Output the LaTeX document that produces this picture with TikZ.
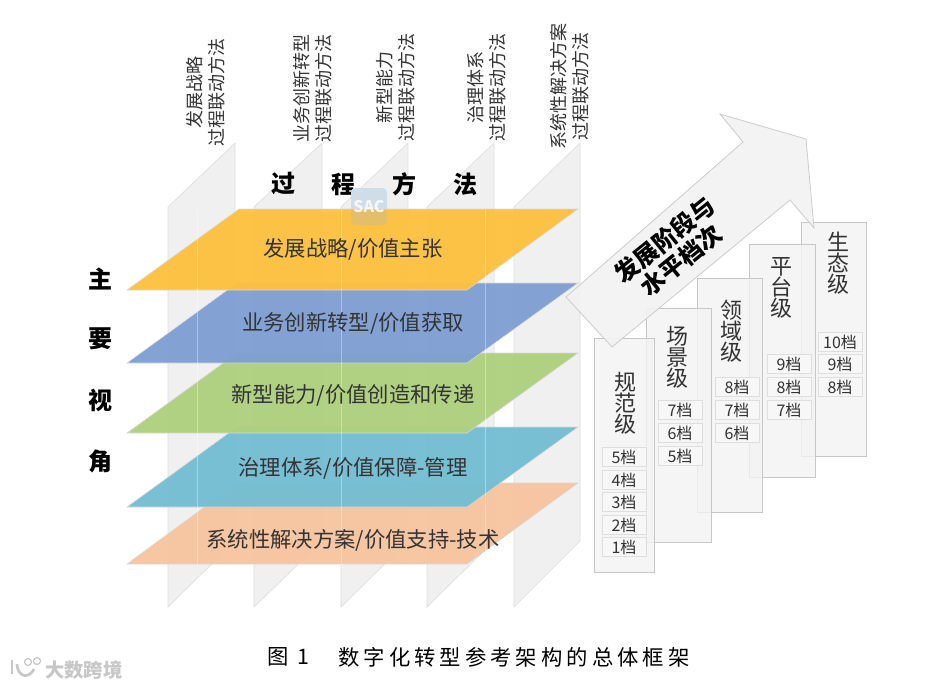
\documentclass[tikz,border=0pt]{standalone}
\usepackage{fontspec}
\usepackage{xcolor}
\setmainfont{Noto Sans CJK SC}
\newfontfamily\capfont[LetterSpace=19]{Noto Sans CJK SC}
\usetikzlibrary{positioning}
\definecolor{laYellow}{HTML}{FDC13F}
\definecolor{laBlue}{HTML}{7F9FD2}
\definecolor{laGreen}{HTML}{AFD07E}
\definecolor{laCyan}{HTML}{74BDD3}
\definecolor{laOrange}{HTML}{F7C49F}
\definecolor{inkGray}{HTML}{333333}
\definecolor{logoBlue}{HTML}{CFDDE8}

\begin{document}
\begin{tikzpicture}[
  x=0.75pt, y=-0.75pt,
  panel/.style={draw=black!13, line width=0.5pt, fill=black!6},
  layer/.style={draw=white!85!black, line width=0.4pt, fill opacity=0.96},
  seam/.style={draw=white, line width=0.5pt, opacity=0.35},
  laytxt/.style={font=\fontsize{16}{19}\selectfont, text=inkGray},
  coltxt/.style={rotate=90, align=center, text=inkGray, font=\fontsize{13.5}{16.5}\selectfont},
  sidetxt/.style={font=\fontsize{18}{21}\selectfont\bfseries},
  tier/.style={draw=black!22, line width=0.7pt, fill=black!5, fill opacity=0.8, text opacity=1, anchor=north west, inner sep=0pt},
  tiertxt/.style={align=center, text=inkGray, font=\fontsize{16.5}{15.75}\selectfont},
  grade/.style={draw=black!13, line width=0.7pt, fill=black!3, minimum width=33pt, minimum height=14pt,
    inner sep=0pt, text=inkGray, font=\fontsize{12}{14}\selectfont},
]
\useasboundingbox (0,0) rectangle (927,687);
% panels
\draw[panel] (168,207) -- (235,143) -- (235,541) -- (168,607) -- cycle;
\draw[panel] (254,207) -- (322,143) -- (322,541) -- (254,607) -- cycle;
\draw[panel] (341,207) -- (408,143) -- (408,541) -- (341,607) -- cycle;
\draw[panel] (427,207) -- (494,143) -- (494,541) -- (427,607) -- cycle;
\draw[panel] (514,207) -- (580,143) -- (580,541) -- (514,607) -- cycle;
\node[sidetxt] (t1) at (283,184) {过};
\node[sidetxt] (t2) at (343,184) {程};
\node[sidetxt] (t3) at (404,184) {方};
\node[sidetxt] (t4) at (465,184) {法};
\node[coltxt] (c1) at (206,92) {发展战略\\过程联动方法};
\node[coltxt] (c2) at (313,88) {业务创新转型\\过程联动方法};
\node[coltxt] (c3) at (396,87) {新型能力\\过程联动方法};
\node[coltxt] (c4) at (487,87) {治理体系\\过程联动方法};
\node[coltxt] (c5) at (570,86) {系统性解决方案\\过程联动方法};
% logo behind yellow
\node[fill=logoBlue, rounded corners=3pt, minimum width=27pt, minimum height=27.5pt, inner sep=0pt] (sq) at (369,206.5) {};
% layers
\fill[layer, fill=laOrange] (237,483) -- (578,483) -- (467,564) -- (127,564) -- cycle;
\fill[layer, fill=laCyan] (237,427) -- (578,427) -- (467,507) -- (127,507) -- cycle;
\fill[layer, fill=laGreen] (237,353) -- (578,353) -- (467,433) -- (127,433) -- cycle;
\fill[layer, fill=laBlue] (237,283) -- (578,283) -- (467,363) -- (127,363) -- cycle;
\fill[layer, fill=laYellow] (239,209) -- (578,209) -- (467,290) -- (127,290) -- cycle;
\draw[seam] (197,209) -- (197,565);
\draw[seam] (341,209) -- (341,565);
\draw[seam] (485,209) -- (485,565);
\fill[logoBlue!60!gray, opacity=0.3, rounded corners=3pt] (351,209) rectangle (387,225);
\node[text=white, text opacity=0.8, font=\fontsize{12}{12}\selectfont\bfseries\itshape, inner sep=0pt] (sac) at (369,207) {SAC};
\node[laytxt] (l1) at (353,249) {发展战略/价值主张};
\node[laytxt] (l2) at (353,323) {业务创新转型/价值获取};
\node[laytxt] (l3) at (353,395) {新型能力/价值创造和传递};
\node[laytxt] (l4) at (353,468) {治理体系/价值保障-管理};
\node[laytxt] (l5) at (353,540) {系统性解决方案/价值支持-技术};
\node[sidetxt] (v1) at (100,279) {主};
\node[sidetxt] (v2) at (100,339) {要};
\node[sidetxt] (v3) at (100,400) {视};
\node[sidetxt] (v4) at (100,461) {角};
% levels, last one on top
\node[tier, minimum width=48.75pt, minimum height=175.5pt] (b5) at (801,222) {};
\node[tier, minimum width=49.5pt, minimum height=174.75pt] (b4) at (749,244) {};
\node[tier, minimum width=48.75pt, minimum height=175.5pt] (b3) at (697,278) {};
\node[tier, minimum width=48.75pt, minimum height=175.5pt] (b2) at (646,308) {};
\node[tier, minimum width=45pt, minimum height=175.5pt] (b1) at (594,338) {};
\node[tiertxt] (n5) at (838,263) {生\\态\\级};
\node[tiertxt] (n4) at (781,288) {平\\台\\级};
\node[tiertxt] (n3) at (731,331) {领\\域\\级};
\node[tiertxt] (n2) at (677,357) {场\\景\\级};
\node[tiertxt] (n1) at (625,403) {规\\范\\级};
\node[grade] (g15) at (624,457) {5档};
\node[grade] (g14) at (624,480) {4档};
\node[grade] (g13) at (624,502) {3档};
\node[grade] (g12) at (624,525) {2档};
\node[grade] (g11) at (624,547) {1档};
\node[grade] (g27) at (680,410) {7档};
\node[grade] (g26) at (680,433) {6档};
\node[grade] (g25) at (680,456) {5档};
\node[grade] (g38) at (737,387) {8档};
\node[grade] (g37) at (737,410) {7档};
\node[grade] (g36) at (737,433) {6档};
\node[grade] (g49) at (789,364) {9档};
\node[grade] (g48) at (789,387) {8档};
\node[grade] (g47) at (789,410) {7档};
\node[grade] (g510) at (840,342) {10档};
\node[grade] (g59) at (840,364) {9档};
\node[grade] (g58) at (840,387) {8档};
% arrow
\draw[draw=black!20, line width=0.6pt, fill=black!5, fill opacity=0.93]
  (566,297) -- (743,142) -- (720,114) -- (806,139) -- (814,228) -- (790,200) -- (612,347) -- cycle;
\node[rotate=39, align=center, font=\fontsize{18}{20}\selectfont\bfseries] (up) at (673,250) {发展阶段与\\水平档次};
% caption
\node[anchor=west, inner sep=0pt, font=\fontsize{16}{19}\selectfont\capfont] (cap1) at (267,657) {图 1};
\node[anchor=west, inner sep=0pt, font=\fontsize{16}{19}\selectfont\capfont] (cap2) at (338,657) {数字化转型参考架构的总体框架};
% watermark
\node[anchor=west, inner sep=0pt, text=black!22, font=\fontsize{14.5}{16}\selectfont\bfseries] (wm) at (45,670) {大数跨境};
\draw[black!22, line width=1.8pt] (12,660) -- (12,674);
\draw[black!22, line width=2pt] (17,664) .. controls (18,679) and (30,678) .. (34,669);
\draw[black!22, line width=0.9pt] (28,662) circle (3.5);
\draw[black!22, line width=0.9pt] (37,661) circle (3.5);
\end{tikzpicture}
\end{document}
